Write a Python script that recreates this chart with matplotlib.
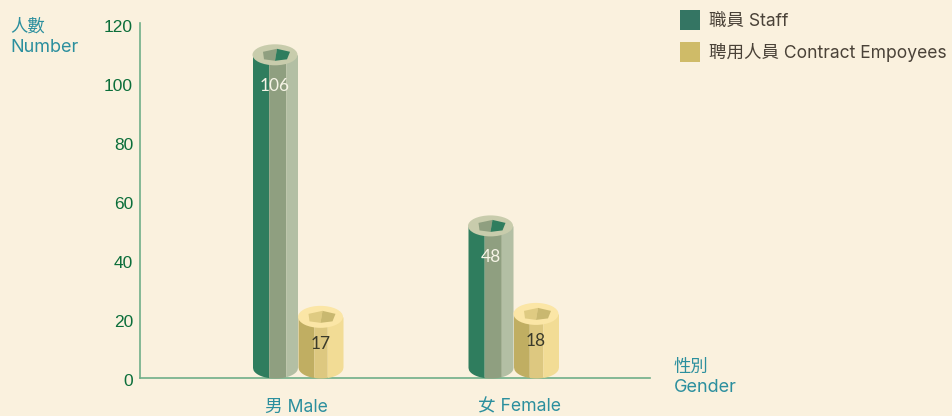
import numpy as np
import matplotlib
matplotlib.use("Agg")
import matplotlib.pyplot as plt
from matplotlib.patches import Ellipse, Patch, Polygon
from matplotlib.transforms import ScaledTranslation

genders = ["男 Male", "女 Female"]
staff = [106, 48]
contract = [17, 18]
series_names = ["職員 Staff", "聘用人員 Contract Empoyees"]
y_ticks = [0, 20, 40, 60, 80, 100, 120]

W, H = 953, 416
AX_L, AX_R, AX_T, AX_B = 140, 650, 23, 378
GROUP_0, GROUP_STEP = 298, 215.5   # pixel centre of the first group, spacing
BG = "#faf1de"
TEAL = "#2b8f9e"
CJK = ["Inter", "Noto Sans CJK TC"]

# body facets (left to right), top ellipse, hole colours, label colour
green_style = dict(facets=[(0.0, 0.36, "#2f7d5e"), (0.36, 0.74, "#8f9f80"), (0.74, 1.0, "#b3bfa4")],
                   top="#c8ccac", hole=("#8f9f80", "#2f7d5e"), text="#f6f4e6", dx=-23, label_dy=31, b=10.5)
yellow_style = dict(facets=[(0.0, 0.35, "#c0ae62"), (0.35, 0.65, "#ddc880"), (0.65, 1.0, "#f2dc95")],
                    top="#fbe6a6", hole=("#dfcb82", "#c9b870"), text="#3a3a2a", dx=22.5, label_dy=27, b=11)

fig = plt.figure(figsize=(W / 100, H / 100), dpi=100, facecolor=BG)
ax = fig.add_axes([AX_L / W, 1 - AX_B / H, (AX_R - AX_L) / W, (AX_B - AX_T) / H])
ax.set_facecolor("none")
ax.set_xlim((AX_L - GROUP_0) / GROUP_STEP, (AX_R - GROUP_0) / GROUP_STEP)
ax.set_ylim(0, (AX_B - AX_T) / 2.95)
px_x = 1 / GROUP_STEP
px_y = 1 / 2.95


def cylinder(group, value, st):
    a = 22.5
    b = st["b"]
    cx = group + st["dx"] * px_x
    base = b * px_y
    top_y = base + value
    # body facets, the lower edge follows the bottom ellipse
    for f0, f1, col in st["facets"]:
        xs = np.linspace(-a + 2 * a * f0, -a + 2 * a * f1, 30)
        low = base - b * px_y * np.sqrt(np.clip(1 - (xs / a) ** 2, 0, 1))
        ax.fill_between(cx + xs * px_x, low, top_y, color=col, lw=0, clip_on=False, zorder=3)
    ax.add_patch(Ellipse((cx, top_y), 2 * a * px_x, 2 * b * px_y, fc=st["top"], ec="none", zorder=4))
    # hole in the top, two faces
    left = [(-12, 3), (2, 6), (0, -6), (-11, -4.5)]
    right = [(2, 6), (15, 3), (12, -4.5), (0, -6)]
    for pts, col in zip((left, right), st["hole"]):
        ax.add_patch(Polygon([(cx + x * px_x, top_y + y * px_y) for x, y in pts], fc=col, ec="none", zorder=5))
    ax.annotate(str(value), (cx, top_y), xytext=(0, -st["label_dy"]), textcoords="offset pixels",
                ha="center", va="center", fontsize=12.5, color=st["text"], family="Lato", zorder=6)


for i in range(len(genders)):
    cylinder(i, staff[i], green_style)
    cylinder(i, contract[i], yellow_style)

for s in ["top", "right"]:
    ax.spines[s].set_visible(False)
for s in ["left", "bottom"]:
    ax.spines[s].set_color("#6fae88")
    ax.spines[s].set_linewidth(1.2)

ax.set_yticks(y_ticks)
ax.set_yticklabels([str(v) for v in y_ticks])
ax.tick_params(axis="y", length=0, pad=5)
shift = ScaledTranslation(0, -2 / 100, fig.dpi_scale_trans)
for lab in ax.get_yticklabels():
    lab.set_fontfamily(["Liberation Sans"])
    lab.set_fontsize(12.5)
    lab.set_color("#0b6e3a")
    lab.set_transform(lab.get_transform() + shift)

ax.set_xticks([])
for i, (name, off) in enumerate(zip(genders, (-1.5, 6))):
    ax.annotate(name, (i, 0), xytext=(off, -29), textcoords="offset pixels", ha="center", va="center",
                fontsize=12.7, color=TEAL, family=CJK, annotation_clip=False)

fig.text(10 / W, 1 - 27 / H, "人數", fontsize=12.5, color=TEAL, family=CJK, va="center")
fig.text(10 / W, 1 - 47.5 / H, "Number", fontsize=13, color=TEAL, family=CJK, va="center")
fig.text(674 / W, 1 - 367 / H, "性別", fontsize=12.5, color=TEAL, family=CJK, va="center")
fig.text(674 / W, 1 - 388 / H, "Gender", fontsize=13, color=TEAL, family=CJK, va="center")

handles = [Patch(fc="#347563", ec="none"), Patch(fc="#cfbb68", ec="none")]
fig.legend(handles, series_names, loc="upper left", bbox_to_anchor=(680 / W, 1 - 10 / H), frameon=False,
           borderpad=0, borderaxespad=0, handlelength=1.14, handleheight=1.38,
           labelspacing=0.68, handletextpad=0.5, labelcolor="#4a4238", prop={"family": CJK, "size": 12.6})

fig.savefig("out.png", dpi=100, facecolor=BG)
